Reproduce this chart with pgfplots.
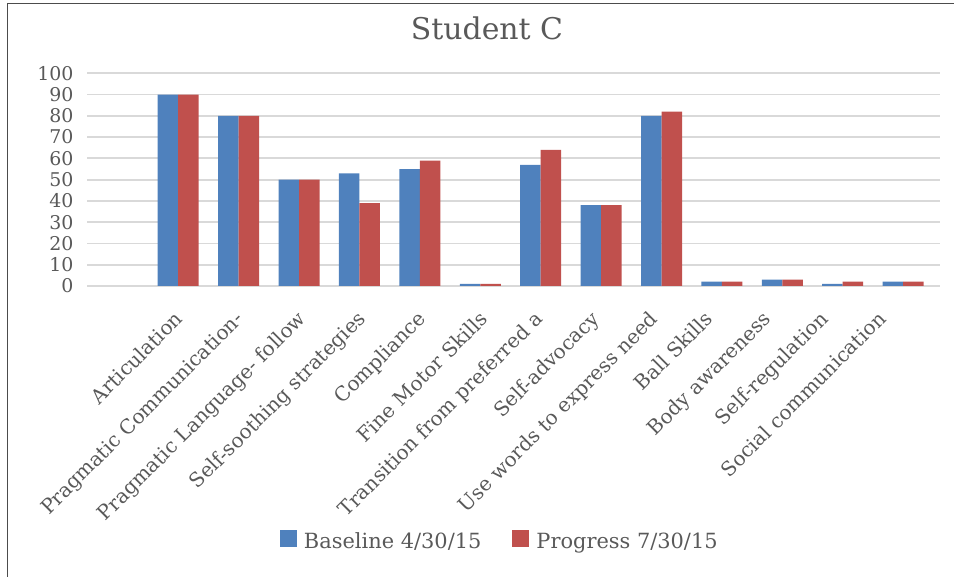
\documentclass[border=0pt]{standalone}
\usepackage{pgfplots}
\pgfplotsset{compat=1.18}
\usepackage{fontspec}
\setmainfont{DejaVu Serif}
\definecolor{cblue}{HTML}{4F81BD}
\definecolor{cred}{HTML}{C0504D}
\definecolor{tgray}{HTML}{595959}
\definecolor{ggray}{HTML}{D9D9D9}
\begin{document}
\begin{tikzpicture}
\useasboundingbox (0bp,0bp) rectangle (954bp,577bp);
\draw[line width=1.5bp, color=black!70] (7.5bp,0bp) -- (7.5bp,573.5bp) -- (954bp,573.5bp);
\node[font=\fontsize{30}{34}\selectfont, text=tgray] at (487bp,549bp) {Student C};
\begin{axis}[
  at={(87bp,291bp)}, anchor=south west,
  scale only axis, width=853bp, height=212.7bp,
  ybar=0pt, bar width=20.5bp,
  xmin=-1.51, xmax=12.61, ymin=0, ymax=100,
  ytick={0,10,...,100},
  xtick={-0.083,0.927,1.953,2.947,3.94,4.967,5.877,6.807,7.781,8.692,9.652,10.597,11.557},
  xticklabels={Articulation,Pragmatic Communication-,Pragmatic Language- follow,Self-soothing strategies,Compliance,Fine Motor Skills,Transition from preferred a,Self-advocacy,Use words to express need,Ball Skills,Body awareness,Self-regulation,Social communication},
  axis line style={draw=none},
  major tick length=0pt,
  ymajorgrids, grid style={ggray, line width=1.8bp},
  tick label style={text=tgray},
  yticklabel style={font=\fontsize{19}{19}\selectfont, xshift=-10bp},
  xticklabel shift=22bp,
  xticklabel style={font=\fontsize{20}{20}\selectfont, rotate=45, anchor=north east, inner sep=1bp},
  /pgf/number format/assume math mode=true,
  legend style={at={(0.484,-1.199)}, anchor=center, draw=none, fill=none, legend columns=2,
    font=\fontsize{21}{21}\selectfont, text=tgray,
    /tikz/every even column/.append style={column sep=29bp}},
  legend image code/.code={\fill[#1] (0bp,-6bp) rectangle (17bp,11bp); \path (22bp,0bp);},
]
\addplot[fill=cblue, draw=none] coordinates {(0,90) (1,80) (2,50) (3,53) (4,55) (5,1) (6,57) (7,38) (8,80) (9,2) (10,3) (11,1) (12,2)};
\addplot[fill=cred, draw=none] coordinates {(0,90) (1,80) (2,50) (3,39) (4,59) (5,1) (6,64) (7,38) (8,82) (9,2) (10,3) (11,2) (12,2)};
\legend{Baseline 4/30/15, Progress 7/30/15}
\end{axis}
\end{tikzpicture}
\end{document}
